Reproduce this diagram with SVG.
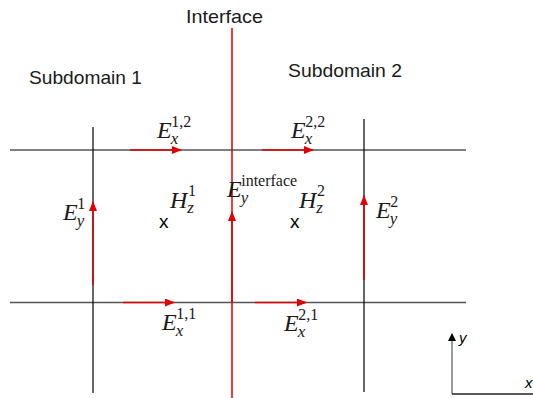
<svg xmlns="http://www.w3.org/2000/svg" width="533" height="398" viewBox="0 0 533 398">
<style>
.lab{font-family:"Liberation Sans",Arial,sans-serif;font-size:19px;fill:#1a1a1a}
.m{font-family:"Liberation Serif","Times New Roman",serif;font-size:24px;fill:#1a1a1a}
.i{font-style:italic}
.sup{font-size:16px;font-style:normal}
.sub{font-size:17px;font-style:italic}
.cross{font-family:"Liberation Sans",Arial,sans-serif;font-size:19px;fill:#000}
.blk{stroke:#000;stroke-width:1.2;fill:none}
.gry{stroke:#555;stroke-width:1.3;fill:none}
.red{stroke:#e00000;stroke-width:1.5;fill:none}
</style>
<defs>
<marker id="ah" markerWidth="10" markerHeight="8" refX="9" refY="4" orient="auto" markerUnits="userSpaceOnUse">
<path d="M0,0 L10,4 L0,8 Z" fill="#e00000"/>
</marker>
<marker id="ak" markerWidth="8" markerHeight="8" refX="7" refY="4" orient="auto" markerUnits="userSpaceOnUse">
<path d="M0,0 L8,4 L0,8 Z" fill="#000"/>
</marker>
</defs>
<g id="grid">
<line class="blk" x1="10" y1="150" x2="466" y2="150"/>
<line class="gry" x1="10" y1="302.5" x2="466" y2="302.5"/>
<line class="blk" x1="93" y1="127" x2="93" y2="393"/>
<line class="blk" x1="364" y1="119" x2="364" y2="392"/>
<line class="red" x1="232" y1="28" x2="232" y2="398" stroke-width="1.3"/>
</g>
<g id="connectors">
<line class="red" x1="130" y1="150" x2="181" y2="150" marker-end="url(#ah)"/>
<line class="red" x1="262" y1="150" x2="313" y2="150" marker-end="url(#ah)"/>
<line class="red" x1="123" y1="302.5" x2="174" y2="302.5" marker-end="url(#ah)"/>
<line class="red" x1="255" y1="302.5" x2="306" y2="302.5" marker-end="url(#ah)"/>
<line class="red" x1="93" y1="285" x2="93" y2="202" marker-end="url(#ah)"/>
<line class="red" x1="232" y1="302" x2="232" y2="212" marker-end="url(#ah)"/>
<line class="red" x1="364" y1="280" x2="364" y2="196" marker-end="url(#ah)"/>
</g>
<g id="titles">
<text class="lab" x="186" y="23" textLength="77" lengthAdjust="spacingAndGlyphs">Interface</text>
<text class="lab" x="29" y="84" textLength="113" lengthAdjust="spacingAndGlyphs">Subdomain 1</text>
<text class="lab" x="288" y="77" textLength="114" lengthAdjust="spacingAndGlyphs">Subdomain 2</text>
</g>
<g id="Ex12"><text class="m i" x="157" y="138">E<tspan class="sub" dx="-1" dy="6">x</tspan><tspan class="sup" dx="-7" dy="-17">1,2</tspan></text></g>
<g id="Ex22"><text class="m i" x="291" y="138">E<tspan class="sub" dx="-1" dy="6">x</tspan><tspan class="sup" dx="-7" dy="-17">2,2</tspan></text></g>
<g id="Ex11"><text class="m i" x="162" y="330">E<tspan class="sub" dx="-1" dy="6">x</tspan><tspan class="sup" dx="-7" dy="-17">1,1</tspan></text></g>
<g id="Ex21"><text class="m i" x="284" y="331">E<tspan class="sub" dx="-1" dy="6">x</tspan><tspan class="sup" dx="-7" dy="-17">2,1</tspan></text></g>
<g id="Ey1"><text class="m i" x="63" y="220">E<tspan class="sub" dx="-1" dy="6">y</tspan><tspan class="sup" dx="-7" dy="-17">1</tspan></text></g>
<g id="Ey2"><text class="m i" x="376" y="218">E<tspan class="sub" dx="-1" dy="6">y</tspan><tspan class="sup" dx="-7" dy="-17">2</tspan></text></g>
<g id="Eyi"><text class="m i" x="227" y="197">E<tspan class="sub" dx="-1" dy="6">y</tspan><tspan class="sup" dx="-7" dy="-17">interface</tspan></text></g>
<g id="Hz1"><text class="m i" x="170" y="208">H<tspan class="sub" dx="0" dy="5">z</tspan><tspan class="sup" dx="-6" dy="-17">1</tspan></text>
<text class="cross" x="159" y="228">x</text></g>
<g id="Hz2"><text class="m i" x="299" y="208">H<tspan class="sub" dx="0" dy="5">z</tspan><tspan class="sup" dx="-6" dy="-17">2</tspan></text>
<text class="cross" x="290" y="228">x</text></g>
<g id="axes">
<line x1="452" y1="394" x2="452" y2="334" stroke="#666" stroke-width="1.3" marker-end="url(#ak)"/>
<line x1="452" y1="394" x2="533" y2="394" stroke="#222" stroke-width="1.3"/>
<text x="459" y="343" font-family="Liberation Sans,Arial,sans-serif" font-size="15" font-style="italic" fill="#000">y</text>
<text x="525" y="388" font-family="Liberation Sans,Arial,sans-serif" font-size="15" font-style="italic" fill="#000">x</text>
</g>
</svg>
